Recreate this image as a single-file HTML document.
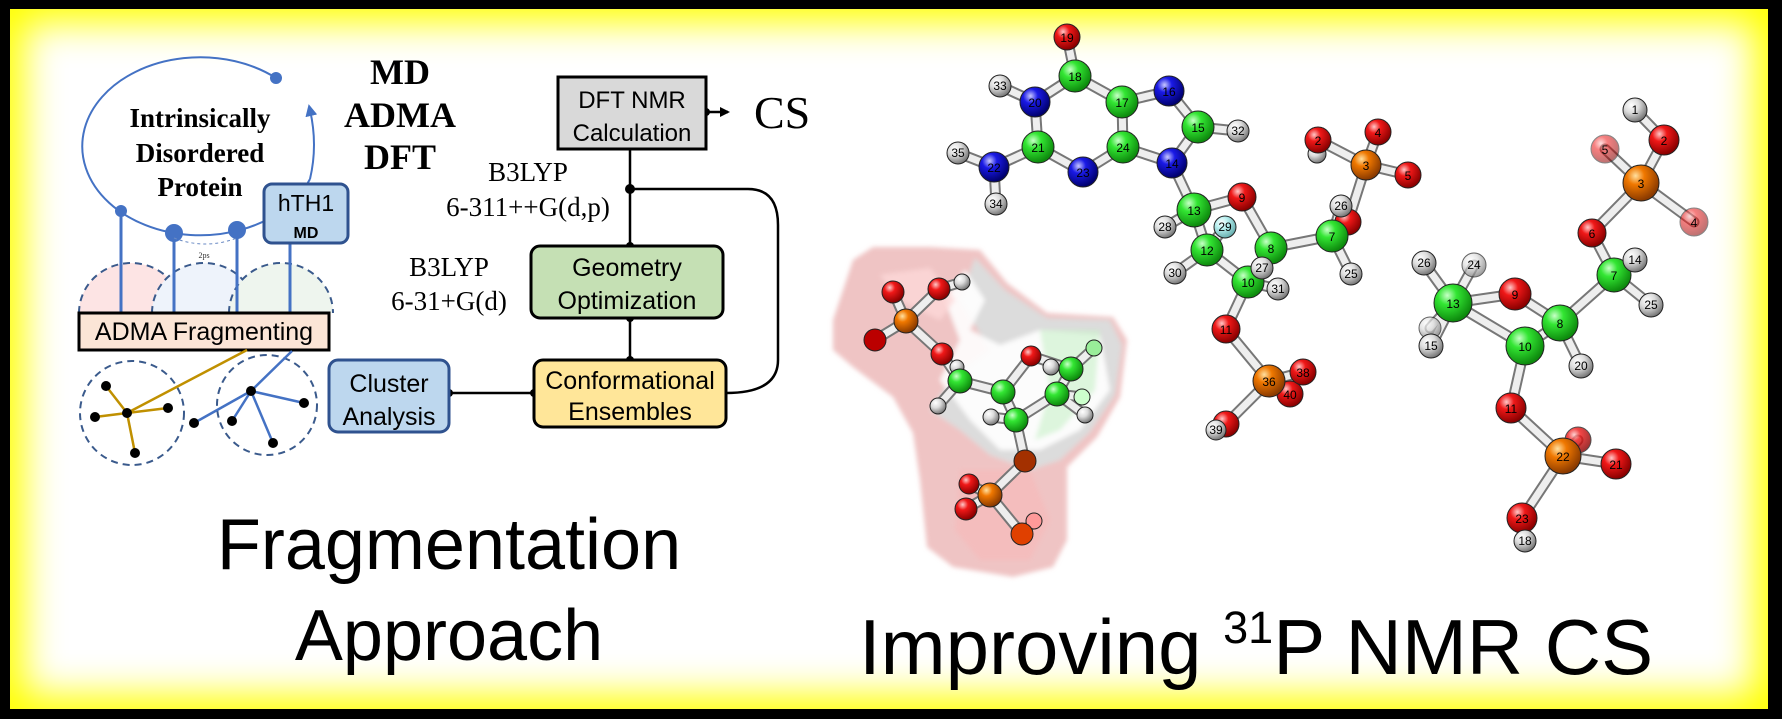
<!DOCTYPE html>
<html><head><meta charset="utf-8"><style>
html,body{margin:0;padding:0}
body{width:1782px;height:719px;background:#000;position:relative;overflow:hidden}
#frame{position:absolute;left:10px;top:9px;width:1758px;height:700px;background:#fff;box-shadow:inset 0 0 38px 14px #ffff00;}
svg{position:absolute;left:0;top:0}
</style></head><body>
<div id="frame"></div>
<svg width="1782" height="719" viewBox="0 0 1782 719" xmlns="http://www.w3.org/2000/svg">
<defs>
<radialGradient id="gC" cx="35%" cy="30%" r="70%"><stop offset="0" stop-color="#c8ffc8"/><stop offset="0.35" stop-color="#33e633"/><stop offset="1" stop-color="#0d8a0d"/></radialGradient>
<radialGradient id="gO" cx="35%" cy="30%" r="70%"><stop offset="0" stop-color="#ffc8c8"/><stop offset="0.35" stop-color="#f01818"/><stop offset="1" stop-color="#8a0000"/></radialGradient>
<radialGradient id="gN" cx="35%" cy="30%" r="70%"><stop offset="0" stop-color="#c8c8ff"/><stop offset="0.35" stop-color="#1a1ae6"/><stop offset="1" stop-color="#00006e"/></radialGradient>
<radialGradient id="gH" cx="35%" cy="30%" r="70%"><stop offset="0" stop-color="#ffffff"/><stop offset="0.45" stop-color="#dcdcdc"/><stop offset="1" stop-color="#7a7a7a"/></radialGradient>
<radialGradient id="gP" cx="35%" cy="30%" r="70%"><stop offset="0" stop-color="#ffe0a0"/><stop offset="0.35" stop-color="#f07800"/><stop offset="1" stop-color="#8a3a00"/></radialGradient>
<radialGradient id="gY" cx="35%" cy="30%" r="70%"><stop offset="0" stop-color="#ffffff"/><stop offset="0.4" stop-color="#b8f0f0"/><stop offset="1" stop-color="#6ab0b0"/></radialGradient>
<filter id="bl" x="-10%" y="-10%" width="120%" height="120%"><feGaussianBlur stdDeviation="2.5"/></filter>
<marker id="ar" markerWidth="10" markerHeight="10" refX="8" refY="5" orient="auto" markerUnits="userSpaceOnUse"><path d="M0,0 L10,5 L0,10 z" fill="#000"/></marker>
<marker id="arb" markerWidth="12" markerHeight="12" refX="6" refY="6" orient="auto" markerUnits="userSpaceOnUse"><path d="M0,0 L12,6 L0,12 z" fill="#4472c4"/></marker>
</defs>

<!-- LEFT DIAGRAM -->
<g stroke="#3a5a8c" stroke-width="2" stroke-dasharray="7,5">
<path d="M79,313 A52,50 0 0 1 183,313" fill="#fde4e4"/>
<path d="M152,313 A52,50 0 0 1 256,313" fill="#eef3fb"/>
<path d="M229,313 A52,50 0 0 1 333,313" fill="#eef5ee"/>
</g>
<path d="M276,78 A118,89 0 1 0 310,179" fill="none" stroke="#4472c4" stroke-width="2"/>
<path d="M310,179 Q318,145 310,110" fill="none" stroke="#4472c4" stroke-width="2" marker-end="url(#arb)"/>
<circle cx="276" cy="78" r="6" fill="#4472c4"/>
<g stroke="#4472c4" stroke-width="3">
<line x1="121" y1="211" x2="121" y2="313"/>
<line x1="174" y1="233" x2="174" y2="313"/>
<line x1="237" y1="230" x2="237" y2="313"/>
<line x1="290" y1="243" x2="290" y2="313"/>
</g>
<circle cx="121" cy="211" r="6" fill="#4472c4"/>
<circle cx="174" cy="233" r="9" fill="#4472c4"/>
<circle cx="237" cy="230" r="9" fill="#4472c4"/>
<path d="M174,238 Q205,250 237,238" fill="none" stroke="#6a8ac4" stroke-width="1" stroke-dasharray="3,3"/>
<text x="204" y="258" font-family="Liberation Serif" font-size="8" text-anchor="middle" fill="#333">2ps</text>
<g font-family="Liberation Serif" font-weight="bold" font-size="27" text-anchor="middle" fill="#000">
<text x="200" y="127">Intrinsically</text>
<text x="200" y="162">Disordered</text>
<text x="200" y="196">Protein</text>
</g>
<rect x="264" y="184" width="84" height="59" rx="8" fill="#bdd7ee" stroke="#2f528f" stroke-width="3"/>
<text x="306" y="211" font-family="Liberation Sans" font-size="23" text-anchor="middle">hTH1</text>
<text x="306" y="238" font-family="Liberation Sans" font-size="16" font-weight="bold" text-anchor="middle">MD</text>
<g font-family="Liberation Serif" font-weight="bold" font-size="36" text-anchor="middle">
<text x="400" y="84">MD</text>
<text x="400" y="127">ADMA</text>
<text x="400" y="169">DFT</text>
</g>
<rect x="79" y="313" width="250" height="37" fill="#fbe5d6" stroke="#000" stroke-width="3"/>
<text x="204" y="340" font-family="Liberation Sans" font-size="25" text-anchor="middle">ADMA Fragmenting</text>
<circle cx="132" cy="413" r="52" fill="none" stroke="#3a5a8c" stroke-width="2" stroke-dasharray="7,5"/>
<circle cx="267" cy="405" r="50" fill="none" stroke="#3a5a8c" stroke-width="2" stroke-dasharray="7,5"/>
<g stroke="#c09000" stroke-width="2.5">
<line x1="127" y1="413" x2="247" y2="350"/>
<line x1="127" y1="413" x2="106" y2="386"/>
<line x1="127" y1="413" x2="95" y2="417"/>
<line x1="127" y1="413" x2="168" y2="408"/>
<line x1="127" y1="413" x2="135" y2="453"/>
</g>
<g stroke="#4472c4" stroke-width="2.5">
<line x1="251" y1="391" x2="292" y2="351"/>
<line x1="251" y1="391" x2="304" y2="403"/>
<line x1="251" y1="391" x2="232" y2="421"/>
<line x1="251" y1="391" x2="273" y2="443"/>
<line x1="251" y1="391" x2="194" y2="423"/>
</g>
<g fill="#000">
<circle cx="127" cy="413" r="5"/><circle cx="106" cy="386" r="5"/><circle cx="95" cy="417" r="5"/><circle cx="168" cy="408" r="5"/><circle cx="135" cy="453" r="5"/>
<circle cx="251" cy="391" r="5"/><circle cx="304" cy="403" r="5"/><circle cx="232" cy="421" r="5"/><circle cx="273" cy="443" r="5"/><circle cx="194" cy="423" r="5"/>
</g>

<!-- flow -->
<g stroke="#000" stroke-width="2.5" fill="none">
<line x1="630" y1="149" x2="630" y2="246"/>
<line x1="630" y1="318" x2="630" y2="360"/>
<path d="M630,189 L748,189 Q778,189 778,225 L778,360 Q778,393 726,393"/>
<line x1="449" y1="393" x2="534" y2="393"/>
<line x1="706" y1="112" x2="728" y2="112" marker-end="url(#ar)"/>
</g>
<g fill="#000"><circle cx="630" cy="189" r="5"/><circle cx="630" cy="246" r="4"/><circle cx="630" cy="318" r="4"/><circle cx="630" cy="360" r="4"/><circle cx="449" cy="393" r="4"/><circle cx="534" cy="393" r="4"/><circle cx="706" cy="112" r="4"/></g>
<rect x="558" y="77" width="148" height="72" fill="#d9d9d9" stroke="#000" stroke-width="3"/>
<g font-family="Liberation Sans" font-size="24" text-anchor="middle">
<text x="632" y="108">DFT NMR</text><text x="632" y="141">Calculation</text></g>
<text x="754" y="128" font-family="Liberation Serif" font-size="46">CS</text>
<g font-family="Liberation Serif" font-size="27" text-anchor="middle">
<text x="528" y="181">B3LYP</text><text x="528" y="216">6-311++G(d,p)</text>
<text x="449" y="276">B3LYP</text><text x="449" y="310">6-31+G(d)</text></g>
<rect x="531" y="246" width="192" height="72" rx="9" fill="#c5e0b4" stroke="#000" stroke-width="3"/>
<rect x="534" y="360" width="192" height="67" rx="9" fill="#ffe699" stroke="#000" stroke-width="3"/>
<rect x="329" y="360" width="120" height="72" rx="9" fill="#bdd7ee" stroke="#2f528f" stroke-width="3"/>
<g font-family="Liberation Sans" font-size="25" text-anchor="middle">
<text x="627" y="276">Geometry</text><text x="627" y="309">Optimization</text>
<text x="630" y="389">Conformational</text><text x="630" y="420">Ensembles</text>
<text x="389" y="392">Cluster</text><text x="389" y="425">Analysis</text></g>
<g font-family="Liberation Sans" font-size="72" text-anchor="middle">
<text x="449" y="569">Fragmentation</text><text x="449" y="660">Approach</text></g>
<text x="859" y="674" font-family="Liberation Sans" font-size="78">Improving <tspan font-size="45" dy="-31">31</tspan><tspan dy="31">P NMR CS</tspan></text>

<!-- SURFACE BLOB -->
<g filter="url(#bl)">
<path d="M833,320 L853,260 L873,247 L930,247 L980,250 L1007,283 L1047,313 L1113,317 L1127,340 L1120,397 L1097,437 L1067,467 L1067,540 L1053,567 L1013,577 L953,567 L927,547 L920,480 L913,433 L893,397 L853,367 L833,350 Z" fill="#eab0b0" opacity="0.75"/>
<path d="M975,258 L1005,290 L1047,318 L1110,320 L1122,345 L1115,395 L1090,432 L1060,460 L1030,470 L990,455 L960,430 L930,410 L950,380 L990,350 L960,300 Z" fill="#dcdcdc"/>
<path d="M965,270 L985,300 L970,330 L1000,345 L1040,330 L1100,335 L1110,390 L1080,430 L1040,450 L1000,450 L970,420 L940,380 L960,340 L945,300 Z" fill="#ffffff" opacity="0.9"/>
<path d="M880,275 L930,268 L955,300 L940,320 L900,300 Z" fill="#fcd8d8" opacity="0.8"/>
<path d="M960,470 L1030,470 L1050,520 L1030,560 L980,560 L955,530 Z" fill="#f5bcbc" opacity="0.8"/>
<path d="M1040,330 L1100,330 L1095,390 L1060,430 L1035,440 L1050,390 Z" fill="#c8f0c8" opacity="0.6"/>
</g>

<!-- BONDS -->
<g stroke-linecap="round">
<g stroke="#777" stroke-width="11">
<path d="M1067,37L1075,76M1075,76L1035,102M1075,76L1122,102M1035,102L1000,86M1035,102L1038,147M1122,102L1169,91M1122,102L1123,147M1169,91L1198,127M1198,127L1238,131M1198,127L1172,163M1172,163L1123,147M1123,147L1083,172M1083,172L1038,147M1038,147L994,167M994,167L958,153M994,167L996,204M1172,163L1194,210M1194,210L1242,197M1194,210L1165,227M1194,210L1207,250M1207,250L1225,227M1207,250L1175,273M1207,250L1248,282M1242,197L1271,248M1271,248L1332,236M1271,248L1248,282M1271,248L1262,268M1248,282L1278,289M1248,282L1226,329M1332,236L1341,206M1332,236L1351,274M1332,236L1348,222M1348,222L1366,165M1366,165L1318,140M1366,165L1378,132M1366,165L1408,175M1318,140L1317,154M1226,329L1269,381M1269,381L1303,372M1269,381L1290,394M1269,381L1226,424M1226,424L1216,430"/>
<path d="M1635,110L1664,140M1664,140L1641,183M1641,183L1605,149M1641,183L1694,222M1641,183L1592,233M1592,233L1614,275M1614,275L1635,260M1614,275L1651,305M1614,275L1560,323M1560,323L1515,294M1515,294L1453,303M1453,303L1424,263M1453,303L1474,265M1453,303L1430,328M1453,303L1431,346M1453,303L1525,346M1525,346L1560,323M1560,323L1581,366M1525,346L1511,408M1511,408L1563,456M1563,456L1578,440M1563,456L1616,464M1563,456L1522,518M1522,518L1525,541"/>
<path d="M893,292L906,321M939,289L962,282M939,289L906,321M906,321L875,340M906,321L942,354M942,354L960,381M960,381L938,406M960,381L1003,392M1003,392L1031,356M1003,392L1016,420M1031,356L1071,369M1071,369L1094,348M1071,369L1057,394M1057,394L1082,397M1057,394L1085,415M1057,394L1016,420M1016,420L991,417M1016,420L1025,461M1025,461L990,495M990,495L969,484M990,495L966,509M990,495L1022,534M1022,534L1034,521"/>
</g>
<g stroke="#eeeeee" stroke-width="7">
<path d="M1067,37L1075,76M1075,76L1035,102M1075,76L1122,102M1035,102L1000,86M1035,102L1038,147M1122,102L1169,91M1122,102L1123,147M1169,91L1198,127M1198,127L1238,131M1198,127L1172,163M1172,163L1123,147M1123,147L1083,172M1083,172L1038,147M1038,147L994,167M994,167L958,153M994,167L996,204M1172,163L1194,210M1194,210L1242,197M1194,210L1165,227M1194,210L1207,250M1207,250L1225,227M1207,250L1175,273M1207,250L1248,282M1242,197L1271,248M1271,248L1332,236M1271,248L1248,282M1271,248L1262,268M1248,282L1278,289M1248,282L1226,329M1332,236L1341,206M1332,236L1351,274M1332,236L1348,222M1348,222L1366,165M1366,165L1318,140M1366,165L1378,132M1366,165L1408,175M1318,140L1317,154M1226,329L1269,381M1269,381L1303,372M1269,381L1290,394M1269,381L1226,424M1226,424L1216,430"/>
<path d="M1635,110L1664,140M1664,140L1641,183M1641,183L1605,149M1641,183L1694,222M1641,183L1592,233M1592,233L1614,275M1614,275L1635,260M1614,275L1651,305M1614,275L1560,323M1560,323L1515,294M1515,294L1453,303M1453,303L1424,263M1453,303L1474,265M1453,303L1430,328M1453,303L1431,346M1453,303L1525,346M1525,346L1560,323M1560,323L1581,366M1525,346L1511,408M1511,408L1563,456M1563,456L1578,440M1563,456L1616,464M1563,456L1522,518M1522,518L1525,541"/>
<path d="M893,292L906,321M939,289L962,282M939,289L906,321M906,321L875,340M906,321L942,354M942,354L960,381M960,381L938,406M960,381L1003,392M1003,392L1031,356M1003,392L1016,420M1031,356L1071,369M1071,369L1094,348M1071,369L1057,394M1057,394L1082,397M1057,394L1085,415M1057,394L1016,420M1016,420L991,417M1016,420L1025,461M1025,461L990,495M990,495L969,484M990,495L966,509M990,495L1022,534M1022,534L1034,521"/>
</g>
</g>

<g stroke="#222" stroke-width="1">
<circle cx="893" cy="292" r="11" fill="url(#gO)"/><circle cx="939" cy="289" r="11" fill="url(#gO)"/><circle cx="962" cy="282" r="8" fill="url(#gH)"/>
<circle cx="906" cy="321" r="12" fill="url(#gP)"/><circle cx="875" cy="340" r="11" fill="#b00" /><circle cx="942" cy="354" r="11" fill="url(#gO)"/>
<circle cx="957" cy="367" r="7" fill="url(#gH)"/><circle cx="960" cy="381" r="12" fill="url(#gC)"/><circle cx="938" cy="406" r="8" fill="url(#gH)"/>
<circle cx="1003" cy="392" r="12" fill="url(#gC)"/><circle cx="1031" cy="356" r="10" fill="url(#gO)"/><circle cx="1051" cy="367" r="8" fill="url(#gH)"/>
<circle cx="1071" cy="369" r="12" fill="url(#gC)"/><circle cx="1094" cy="348" r="8" fill="#9e9" /><circle cx="1057" cy="394" r="12" fill="url(#gC)"/>
<circle cx="1082" cy="397" r="8" fill="#cfc"/><circle cx="1085" cy="415" r="8" fill="url(#gH)"/><circle cx="991" cy="417" r="8" fill="url(#gH)"/>
<circle cx="1016" cy="420" r="12" fill="url(#gC)"/><circle cx="1025" cy="461" r="11" fill="#a33000"/><circle cx="990" cy="495" r="12" fill="url(#gP)"/>
<circle cx="969" cy="484" r="10" fill="url(#gO)"/><circle cx="966" cy="509" r="11" fill="url(#gO)"/><circle cx="1034" cy="521" r="8" fill="#f99"/><circle cx="1022" cy="534" r="11" fill="#e04000"/>
</g>

<g stroke="#222" stroke-width="1">
<circle cx="1067" cy="37" r="13" fill="url(#gO)"/>
<circle cx="1075" cy="76" r="16" fill="url(#gC)"/>
<circle cx="1000" cy="86" r="11" fill="url(#gH)"/>
<circle cx="1035" cy="102" r="15" fill="url(#gN)"/>
<circle cx="1122" cy="102" r="16" fill="url(#gC)"/>
<circle cx="1169" cy="91" r="15" fill="url(#gN)"/>
<circle cx="1198" cy="127" r="16" fill="url(#gC)"/>
<circle cx="1238" cy="131" r="11" fill="url(#gH)"/>
<circle cx="1038" cy="147" r="16" fill="url(#gC)"/>
<circle cx="1123" cy="147" r="16" fill="url(#gC)"/>
<circle cx="1083" cy="172" r="15" fill="url(#gN)"/>
<circle cx="1172" cy="163" r="15" fill="url(#gN)"/>
<circle cx="958" cy="153" r="11" fill="url(#gH)"/>
<circle cx="994" cy="167" r="15" fill="url(#gN)"/>
<circle cx="996" cy="204" r="11" fill="url(#gH)"/>
<circle cx="1165" cy="227" r="11" fill="url(#gH)"/>
<circle cx="1194" cy="210" r="17" fill="url(#gC)"/>
<circle cx="1242" cy="197" r="14" fill="url(#gO)"/>
<circle cx="1225" cy="227" r="11" fill="url(#gY)"/>
<circle cx="1175" cy="273" r="11" fill="url(#gH)"/>
<circle cx="1207" cy="250" r="16" fill="url(#gC)"/>
<circle cx="1271" cy="248" r="16" fill="url(#gC)"/>
<circle cx="1348" cy="222" r="13" fill="url(#gO)"/>
<circle cx="1341" cy="206" r="11" fill="url(#gH)"/>
<circle cx="1332" cy="236" r="16" fill="url(#gC)"/>
<circle cx="1351" cy="274" r="11" fill="url(#gH)"/>
<circle cx="1248" cy="282" r="16" fill="url(#gC)"/>
<circle cx="1262" cy="268" r="11" fill="url(#gH)"/>
<circle cx="1278" cy="289" r="11" fill="url(#gH)"/>
<circle cx="1226" cy="329" r="14" fill="url(#gO)"/>
<circle cx="1317" cy="154" r="9" fill="url(#gH)"/>
<circle cx="1318" cy="140" r="13" fill="url(#gO)"/>
<circle cx="1378" cy="132" r="13" fill="url(#gO)"/>
<circle cx="1366" cy="165" r="15" fill="url(#gP)"/>
<circle cx="1408" cy="175" r="13" fill="url(#gO)"/>
<circle cx="1290" cy="394" r="13" fill="url(#gO)"/>
<circle cx="1269" cy="381" r="16" fill="url(#gP)"/>
<circle cx="1303" cy="372" r="13" fill="url(#gO)"/>
<circle cx="1226" cy="424" r="13" fill="url(#gO)"/>
<circle cx="1216" cy="430" r="10" fill="url(#gH)"/>
<circle cx="1635" cy="110" r="12" fill="url(#gH)"/>
<circle cx="1664" cy="140" r="15" fill="url(#gO)"/>
<circle cx="1605" cy="149" r="14" fill="url(#gO)" opacity="0.55"/>
<circle cx="1694" cy="222" r="14" fill="url(#gO)" opacity="0.55"/>
<circle cx="1641" cy="183" r="18" fill="url(#gP)"/>
<circle cx="1592" cy="233" r="14" fill="url(#gO)"/>
<circle cx="1614" cy="275" r="17" fill="url(#gC)"/>
<circle cx="1635" cy="260" r="12" fill="url(#gH)"/>
<circle cx="1651" cy="305" r="12" fill="url(#gH)"/>
<circle cx="1424" cy="263" r="12" fill="url(#gH)"/>
<circle cx="1474" cy="265" r="12" fill="url(#gH)" opacity="0.7"/>
<circle cx="1430" cy="328" r="11" fill="url(#gH)" opacity="0.7"/>
<circle cx="1431" cy="346" r="12" fill="url(#gH)"/>
<circle cx="1525" cy="346" r="19" fill="url(#gC)"/>
<circle cx="1453" cy="303" r="19" fill="url(#gC)"/>
<circle cx="1515" cy="294" r="16" fill="url(#gO)"/>
<circle cx="1560" cy="323" r="18" fill="url(#gC)"/>
<circle cx="1581" cy="366" r="12" fill="url(#gH)"/>
<circle cx="1511" cy="408" r="15" fill="url(#gO)"/>
<circle cx="1578" cy="440" r="13" fill="url(#gO)" opacity="0.8"/>
<circle cx="1563" cy="456" r="18" fill="url(#gP)"/>
<circle cx="1616" cy="464" r="15" fill="url(#gO)"/>
<circle cx="1522" cy="518" r="15" fill="url(#gO)"/>
<circle cx="1525" cy="541" r="11" fill="url(#gH)"/>
</g>
<g font-family="Liberation Sans" font-size="12" text-anchor="middle" fill="#000">
<text x="1067" y="42">19</text><text x="1075" y="81">18</text><text x="1000" y="90">33</text><text x="1035" y="107">20</text><text x="1122" y="107">17</text><text x="1169" y="96">16</text><text x="1198" y="132">15</text><text x="1238" y="135">32</text><text x="1038" y="152">21</text><text x="1123" y="152">24</text><text x="1083" y="177">23</text><text x="1172" y="168">14</text><text x="958" y="157">35</text><text x="994" y="172">22</text><text x="996" y="208">34</text><text x="1165" y="231">28</text><text x="1194" y="215">13</text><text x="1242" y="202">9</text><text x="1225" y="231">29</text><text x="1175" y="277">30</text><text x="1207" y="255">12</text><text x="1271" y="253">8</text><text x="1341" y="210">26</text><text x="1332" y="241">7</text><text x="1351" y="278">25</text><text x="1248" y="287">10</text><text x="1262" y="272">27</text><text x="1278" y="293">31</text><text x="1226" y="334">11</text><text x="1318" y="145">2</text><text x="1378" y="137">4</text><text x="1366" y="170">3</text><text x="1408" y="180">5</text><text x="1269" y="386">36</text><text x="1303" y="377">38</text><text x="1290" y="399">40</text><text x="1216" y="434">39</text>
<text x="1635" y="114">1</text><text x="1664" y="145">2</text><text x="1605" y="154">5</text><text x="1694" y="227">4</text><text x="1641" y="188">3</text><text x="1592" y="238">6</text><text x="1614" y="280">7</text><text x="1635" y="264">14</text><text x="1651" y="309">25</text><text x="1424" y="267">26</text><text x="1474" y="269">24</text><text x="1431" y="350">15</text><text x="1525" y="351">10</text><text x="1453" y="308">13</text><text x="1515" y="299">9</text><text x="1560" y="328">8</text><text x="1581" y="370">20</text><text x="1511" y="413">11</text><text x="1563" y="461">22</text><text x="1616" y="469">21</text><text x="1522" y="523">23</text><text x="1525" y="545">18</text>
</g>
</svg>
</body></html>
